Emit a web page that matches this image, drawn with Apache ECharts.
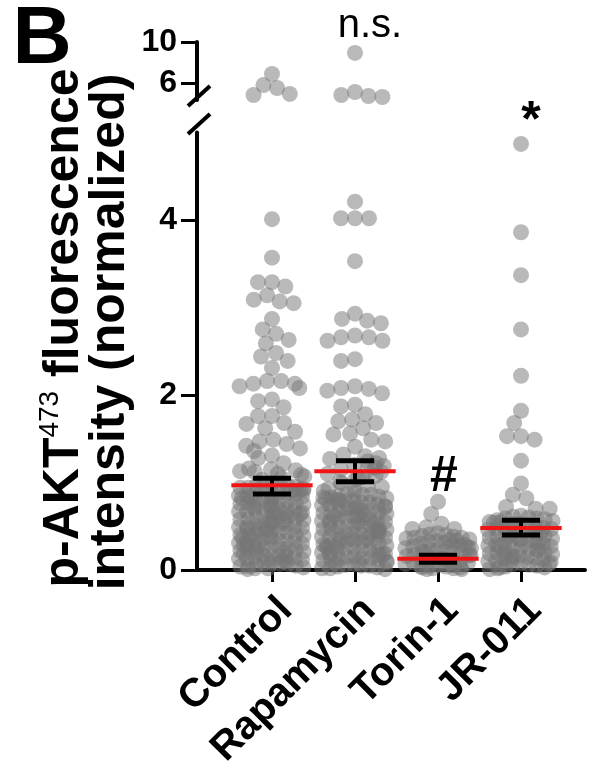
<!DOCTYPE html>
<html>
<head>
<meta charset="utf-8">
<script src="https://cdn.jsdelivr.net/npm/echarts@6.0.0/dist/echarts.min.js"></script>
<style>
  html, body { margin: 0; padding: 0; background: #fff; }
  #main { width: 591px; height: 763px; }
</style>
</head>
<body>
<div id="main"></div>
<script>
// groups on the x axis
const categories = ['Control', 'Rapamycin', 'Torin-1', 'JR-011'];

// cells above the axis break (upper panel)
const controlUpper = [6.88, 5.80, 5.51, 4.93, 4.83];
const rapamycinUpper = [8.93, 5.12, 4.83, 4.73, 4.63];

// spread-out cells of the lower panel
const controlValues = [
  4.01, 3.57, 3.29, 3.29, 3.24, 3.14, 3.09, 3.07, 3.05, 2.87, 2.75, 2.70, 2.63, 2.59,
  2.48, 2.44, 2.39, 2.31, 2.16, 2.16, 2.13, 2.13, 2.10, 2.08, 1.95, 1.93, 1.86, 1.76,
  1.76, 1.68, 1.67, 1.62, 1.58, 1.49, 1.47, 1.44, 1.42, 1.39, 1.36, 1.31, 1.28, 1.22,
  1.16, 1.15, 1.14, 1.13, 1.12, 1.10, 1.09, 1.07, 1.05, 1.03
];
const rapamycinValues = [
  4.21, 4.02, 4.02, 4.02, 3.53, 2.93, 2.87, 2.85, 2.82, 2.68, 2.66, 2.66, 2.62, 2.62,
  2.41, 2.39, 2.10, 2.08, 2.07, 2.05, 2.02, 1.89, 1.87, 1.78, 1.72, 1.70, 1.68, 1.62,
  1.56, 1.55, 1.49, 1.47, 1.41, 1.32, 1.30, 1.28, 1.27, 1.24, 1.22, 1.20, 1.19, 1.17,
  1.15, 1.14, 1.12, 1.10, 1.08, 1.06, 1.05, 1.03, 1.01, 0.99, 0.97, 0.95, 0.93, 0.92, 0.90
];
const torinValues = [0.78, 0.64, 0.53, 0.49, 0.47, 0.47];
const jrValues = [
  4.87, 3.86, 3.37, 2.75, 2.22, 1.82, 1.68, 1.53, 1.53, 1.49, 1.25, 0.99, 0.86, 0.82,
  0.72, 0.70, 0.70
];

// tightly packed cells near the bottom of each group
const controlCore = [
  0.99, 0.98, 0.97, 0.97, 0.96, 0.95, 0.94, 0.94, 0.93, 0.92, 0.91, 0.91, 0.90, 0.89,
  0.88, 0.88, 0.87, 0.86, 0.85, 0.85, 0.84, 0.83, 0.82, 0.82, 0.81, 0.80, 0.79, 0.79,
  0.78, 0.77, 0.76, 0.76, 0.75, 0.74, 0.73, 0.73, 0.72, 0.71, 0.70, 0.70, 0.69, 0.68,
  0.67, 0.67, 0.66, 0.65, 0.64, 0.64, 0.63, 0.62, 0.61, 0.61, 0.60, 0.59, 0.58, 0.58,
  0.57, 0.56, 0.55, 0.55, 0.54, 0.53, 0.52, 0.52, 0.51, 0.50, 0.49, 0.49, 0.48, 0.47,
  0.46, 0.46, 0.45, 0.44, 0.43, 0.43, 0.42, 0.41, 0.40, 0.40, 0.39, 0.38, 0.37, 0.37,
  0.36, 0.35, 0.34, 0.34, 0.33, 0.32, 0.31, 0.31, 0.30, 0.29, 0.28, 0.28, 0.27, 0.26,
  0.25, 0.25, 0.24, 0.23, 0.22, 0.22, 0.21, 0.20, 0.19, 0.19, 0.18, 0.17, 0.16, 0.16,
  0.15, 0.14, 0.13, 0.13, 0.12, 0.11, 0.10, 0.10, 0.09, 0.08, 0.07, 0.07, 0.06, 0.05,
  0.04, 0.04, 0.03, 0.02, 0.02, 0.01
];
const rapamycinCore = [
  0.88, 0.87, 0.86, 0.86, 0.85, 0.84, 0.83, 0.83, 0.82, 0.81, 0.80, 0.80, 0.79, 0.78,
  0.77, 0.77, 0.76, 0.75, 0.74, 0.74, 0.73, 0.72, 0.71, 0.71, 0.70, 0.69, 0.68, 0.68,
  0.67, 0.66, 0.65, 0.65, 0.64, 0.63, 0.62, 0.62, 0.61, 0.60, 0.59, 0.59, 0.58, 0.57,
  0.56, 0.56, 0.55, 0.54, 0.53, 0.53, 0.52, 0.51, 0.50, 0.50, 0.49, 0.48, 0.47, 0.47,
  0.46, 0.45, 0.44, 0.44, 0.43, 0.42, 0.41, 0.41, 0.40, 0.39, 0.38, 0.38, 0.37, 0.36,
  0.35, 0.35, 0.34, 0.33, 0.32, 0.32, 0.31, 0.30, 0.29, 0.29, 0.28, 0.27, 0.26, 0.26,
  0.25, 0.24, 0.23, 0.23, 0.22, 0.21, 0.20, 0.20, 0.19, 0.18, 0.17, 0.17, 0.16, 0.15,
  0.14, 0.14, 0.13, 0.12, 0.11, 0.11, 0.10, 0.09, 0.08, 0.08, 0.07, 0.06, 0.05, 0.05,
  0.04, 0.03, 0.02, 0.02, 0.01
];
const torinCore = [
  0.42, 0.41, 0.40, 0.39, 0.38, 0.37, 0.37, 0.36, 0.35, 0.34, 0.33, 0.33, 0.32, 0.31,
  0.30, 0.29, 0.29, 0.28, 0.27, 0.26, 0.25, 0.25, 0.24, 0.23, 0.22, 0.21, 0.21, 0.20,
  0.19, 0.18, 0.17, 0.17, 0.16, 0.15, 0.14, 0.13, 0.13, 0.12, 0.11, 0.10, 0.09, 0.09,
  0.08, 0.07, 0.07, 0.06, 0.05, 0.05, 0.04, 0.04, 0.03, 0.03, 0.02, 0.02, 0.01, 0.01
];
const jrCore = [
  0.62, 0.61, 0.60, 0.59, 0.59, 0.58, 0.57, 0.56, 0.55, 0.55, 0.54, 0.53, 0.52, 0.51,
  0.51, 0.50, 0.49, 0.48, 0.47, 0.47, 0.46, 0.45, 0.44, 0.43, 0.43, 0.42, 0.41, 0.40,
  0.39, 0.39, 0.38, 0.37, 0.36, 0.35, 0.35, 0.34, 0.33, 0.32, 0.31, 0.31, 0.30, 0.29,
  0.28, 0.27, 0.27, 0.26, 0.25, 0.24, 0.23, 0.23, 0.22, 0.21, 0.20, 0.19, 0.19, 0.18,
  0.17, 0.16, 0.15, 0.15, 0.14, 0.13, 0.12, 0.11, 0.11, 0.10, 0.09, 0.08, 0.07, 0.07,
  0.06, 0.05, 0.04, 0.03, 0.03, 0.02, 0.01
];

// mean and SEM bars
const meanValues = [0.97, 1.13, 0.13, 0.48];
const semLow = [0.87, 1.01, 0.09, 0.40];
const semHigh = [1.05, 1.25, 0.17, 0.57];

// tick labels
const lowerTicks = [0, 2, 4];
const upperTicks = [6, 10];

const FONT = 'Liberation Sans, Arial, Helvetica, sans-serif';
const DOT = 'rgba(118,118,118,0.64)';

const chart = echarts.init(document.getElementById('main'));

function toPoints(name, values) {
  return values.map(v => [name, v]);
}

function dotSeries(name, values, idx) {
  return {
    type: 'scatter',
    xAxisIndex: idx,
    yAxisIndex: idx,
    symbolSize: 16,
    itemStyle: { color: DOT },
    data: toPoints(name, values),
    silent: true,
    z: 2
  };
}

// red mean line + black SEM bar
function renderStats(params, api) {
  const i = api.value(0);
  const pMean = api.coord([i, api.value(1)]);
  const yLo = api.coord([i, api.value(2)])[1];
  const yHi = api.coord([i, api.value(3)])[1];
  const band = api.size([1, 0])[0];
  const x = pMean[0];
  const capW = band * 0.23;
  const meanW = band * 0.49;
  return {
    type: 'group',
    children: [
      { type: 'line', shape: { x1: x, y1: yLo, x2: x, y2: yHi }, style: { stroke: '#000', lineWidth: 4 } },
      { type: 'line', shape: { x1: x - capW, y1: yHi, x2: x + capW, y2: yHi }, style: { stroke: '#000', lineWidth: 5 } },
      { type: 'line', shape: { x1: x - capW, y1: yLo, x2: x + capW, y2: yLo }, style: { stroke: '#000', lineWidth: 5 } },
      { type: 'line', shape: { x1: x - meanW, y1: pMean[1], x2: x + meanW, y2: pMean[1] }, style: { stroke: '#f01414', lineWidth: 4 } }
    ]
  };
}

const yLabel = { fontFamily: FONT, fontWeight: 'bold', fontSize: 32, color: '#000', margin: 20 };

const option = {
  animation: false,
  backgroundColor: '#fff',
  grid: [
    { left: 230.5, right: 28.5, top: 132.5, bottom: 193, outerBoundsMode: 'none', containLabel: false },
    { left: 230.5, right: 28.5, top: 42, bottom: 663, outerBoundsMode: 'none', containLabel: false },
    { left: 197, right: 6, top: 132.5, bottom: 193, outerBoundsMode: 'none', containLabel: false },
    { left: 230.5, right: 28.5, top: 132.5, bottom: 193, outerBoundsMode: 'none', containLabel: false }
  ],
  xAxis: [
    {
      type: 'category', gridIndex: 0, data: categories,
      jitter: 66, jitterOverlap: false, jitterMargin: -2,
      axisLine: { show: false },
      axisTick: { show: true, alignWithLabel: true, length: 12, lineStyle: { color: '#000', width: 3 } },
      axisLabel: {
        rotate: 45, interval: 0, align: 'right', verticalAlign: 'top',
        fontFamily: FONT, fontWeight: 'bold', fontSize: 40, color: '#000', margin: 20
      },
      splitLine: { show: false }
    },
    {
      type: 'category', gridIndex: 1, data: categories,
      jitter: 80, jitterOverlap: false, jitterMargin: -2,
      show: false
    },
    {
      type: 'value', gridIndex: 2, min: 0, max: 1,
      axisLine: { show: true, onZero: false, lineStyle: { color: '#000', width: 4 } },
      axisTick: { show: false }, axisLabel: { show: false }, splitLine: { show: false }
    },
    {
      type: 'category', gridIndex: 3, data: categories,
      jitter: 70, jitterOverlap: false, jitterMargin: -8,
      show: false
    }
  ],
  yAxis: [
    {
      type: 'value', gridIndex: 0, min: 0, max: 5, offset: 33.5,
      axisLine: { show: true, lineStyle: { color: '#000', width: 4 } },
      axisTick: { show: true, customValues: lowerTicks, length: 16, lineStyle: { color: '#000', width: 3 } },
      axisLabel: Object.assign({ customValues: lowerTicks }, yLabel),
      splitLine: { show: false }
    },
    {
      type: 'value', gridIndex: 1, min: 4.34, max: 10, offset: 33.5,
      axisLine: { show: true, lineStyle: { color: '#000', width: 4 } },
      axisTick: { show: true, customValues: upperTicks, length: 16, lineStyle: { color: '#000', width: 3 } },
      axisLabel: Object.assign({ customValues: upperTicks }, yLabel),
      splitLine: { show: false }
    },
    { type: 'value', gridIndex: 2, show: false },
    { type: 'value', gridIndex: 3, min: 0, max: 5, show: false }
  ],
  series: [
    dotSeries('Control', controlCore, 3),
    dotSeries('Rapamycin', rapamycinCore, 3),
    dotSeries('Torin-1', torinCore, 3),
    dotSeries('JR-011', jrCore, 3),
    dotSeries('Control', controlValues, 0),
    dotSeries('Rapamycin', rapamycinValues, 0),
    dotSeries('Torin-1', torinValues, 0),
    dotSeries('JR-011', jrValues, 0),
    dotSeries('Control', controlUpper, 1),
    dotSeries('Rapamycin', rapamycinUpper, 1),
    {
      type: 'custom',
      xAxisIndex: 0, yAxisIndex: 0,
      renderItem: renderStats,
      encode: { x: 0, y: [1, 2, 3] },
      data: categories.map((c, i) => [i, meanValues[i], semLow[i], semHigh[i]]),
      silent: true,
      z: 5
    }
  ],
  graphic: [
    // panel letter
    { type: 'text', x: 42, y: 40, style: { text: 'B', font: 'bold 82px ' + FONT, fill: '#000', align: 'center', verticalAlign: 'middle' } },
    // y axis title, two lines
    {
      type: 'text', x: 64.5, y: 328, rotation: Math.PI / 2,
      style: {
        text: '{a|p-AKT}{s|473}{a| fluorescence}', align: 'center', verticalAlign: 'middle',
        rich: {
          a: { fontFamily: FONT, fontWeight: 'bold', fontSize: 50, fill: '#000', lineHeight: 56 },
          s: { fontFamily: FONT, fontWeight: 'normal', fontSize: 28, fill: '#000', lineHeight: 56, verticalAlign: 'top', padding: [0, 0, 16, 0] }
        }
      }
    },
    {
      type: 'text', x: 110.5, y: 332, rotation: Math.PI / 2,
      style: { text: 'intensity (normalized)', font: 'bold 50px ' + FONT, fill: '#000', align: 'center', verticalAlign: 'middle' }
    },
    // axis break marks
    { type: 'line', shape: { x1: 188, y1: 106, x2: 210, y2: 86 }, style: { stroke: '#000', lineWidth: 4 } },
    { type: 'line', shape: { x1: 188, y1: 134, x2: 210, y2: 114 }, style: { stroke: '#000', lineWidth: 4 } },
    // significance marks
    { type: 'text', x: 370, y: 26, style: { text: 'n.s.', font: '40px ' + FONT, fill: '#000', align: 'center', verticalAlign: 'middle' } },
    { type: 'text', x: 444, y: 477, style: { text: '#', font: 'bold 50px ' + FONT, fill: '#000', align: 'center', verticalAlign: 'middle' } },
    { type: 'text', x: 531, y: 122, style: { text: '*', font: 'bold 50px ' + FONT, fill: '#000', align: 'center', verticalAlign: 'middle' } }
  ]
};

chart.setOption(option);
</script>
</body>
</html>
